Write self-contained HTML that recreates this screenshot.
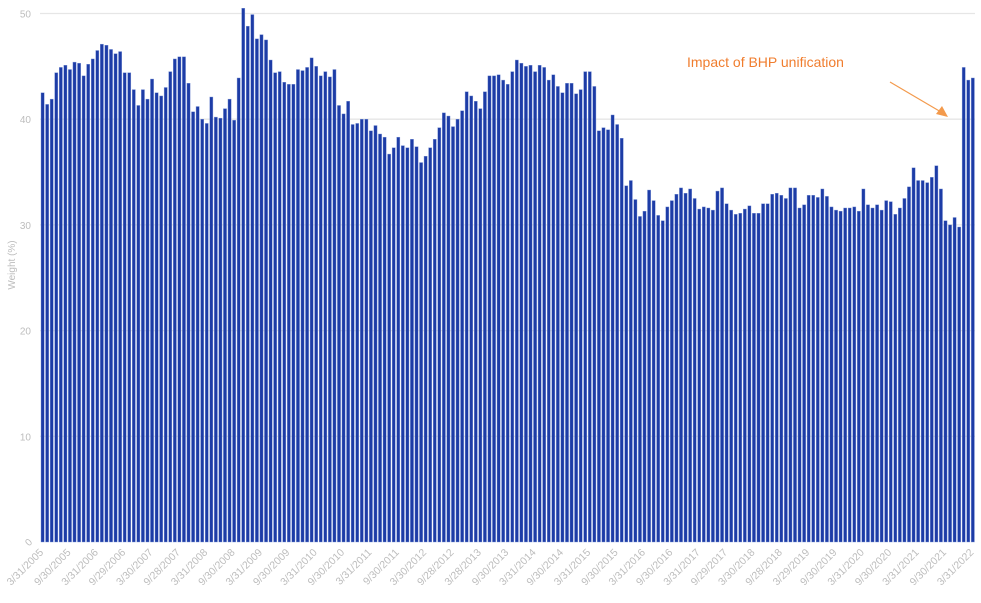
<!DOCTYPE html>
<html><head><meta charset="utf-8"><style>
html,body{margin:0;padding:0;background:#fff;}
svg{display:block;font-family:"Liberation Sans",sans-serif;}
</style></head><body>
<svg id="c" width="981" height="603" viewBox="0 0 981 603" xmlns="http://www.w3.org/2000/svg"></svg>
<script>
const d=[42.5,41.4,41.9,44.4,44.9,45.1,44.7,45.4,45.3,44.1,45.2,45.7,46.5,47.1,47.0,46.6,46.2,46.4,44.4,44.4,42.8,41.3,42.8,41.9,43.8,42.5,42.2,43.0,44.5,45.7,45.9,45.9,43.4,40.7,41.2,40.0,39.6,42.1,40.2,40.1,41.0,41.9,39.9,43.9,50.5,48.8,49.9,47.6,48.0,47.5,45.6,44.4,44.5,43.5,43.3,43.3,44.7,
44.6,44.9,45.8,45.0,44.1,44.5,44.0,44.7,41.3,40.5,41.7,39.5,39.6,40.0,40.0,38.9,39.4,38.6,38.3,36.7,37.3,38.3,37.5,37.3,38.1,37.4,35.9,36.5,37.3,
38.1,39.2,40.6,40.3,39.3,40.0,40.8,42.6,42.2,41.7,41.0,42.6,44.1,44.1,44.2,43.7,43.3,44.5,45.6,45.3,45.0,45.1,44.5,45.1,44.9,43.7,44.2,43.1,42.5,43.4,43.4,42.4,42.8,44.5,44.5,43.1,38.9,
39.2,39.0,40.4,39.5,38.2,33.7,34.2,32.4,30.8,31.3,33.3,32.3,30.9,30.4,31.7,32.3,32.9,33.5,33.0,33.4,32.5,31.5,31.7,31.6,31.4,33.2,33.5,32.0,31.4,31.0,31.1,31.5,31.8,31.1,31.1,32.0,32.0,32.9,33.0,32.8,32.5,33.5,33.5,31.6,
31.9,32.8,32.8,32.6,33.4,32.7,31.7,31.4,31.3,31.6,31.6,31.7,31.3,33.4,31.9,31.6,31.9,31.4,32.3,32.2,31.0,31.6,32.5,33.6,35.4,34.2,34.2,34.0,34.5,35.6,33.4,30.4,30.0,30.7,29.8,44.9,43.7,43.9];
const y0=542,k=10.57,x0=41,st=4.56;
let s='';
for(let v=10;v<=50;v+=10){const y=y0-v*k;s+=`<line x1="40" x2="975" y1="${y}" y2="${y}" stroke="#e6e6e6" stroke-width="1.3"/><text x="31" y="${y+4}" font-size="10" fill="#bdbdbd" text-anchor="end">${v}</text>`;}
s+=`<text x="31" y="${y0+4}" font-size="10" fill="#bdbdbd" text-anchor="end" transform="rotate(-45 28 ${y0})">0</text>`;
s+=`<text font-size="10" fill="#bdbdbd" text-anchor="middle" transform="translate(15 265) rotate(-90)">Weight (%)</text>`;
d.forEach((v,i)=>{const x=x0+i*st,h=v*k;s+=`<rect x="${x.toFixed(2)}" y="${(y0-h).toFixed(2)}" width="3.2" height="${h.toFixed(2)}" fill="#1d3ca6" stroke="#7d95d6" stroke-width="0.4"/>`;});
const labs=["3/31/2005","9/30/2005","3/31/2006","9/29/2006","3/30/2007","9/28/2007","3/31/2008","9/30/2008","3/31/2009","9/30/2009","3/31/2010","9/30/2010","3/31/2011","9/30/2011","3/30/2012","9/28/2012","3/28/2013","9/30/2013","3/31/2014","9/30/2014","3/31/2015","9/30/2015","3/31/2016","9/30/2016","3/31/2017","9/29/2017","3/30/2018","9/28/2018","3/29/2019","9/30/2019","3/31/2020","9/30/2020","3/31/2021","9/30/2021","3/31/2022"];
labs.forEach((t,i)=>{const x=x0+i*6*st+3;s+=`<text x="${x}" y="553" font-size="10.5" fill="#bdbdbd" text-anchor="end" transform="rotate(-45 ${x} 553)">${t}</text>`;});
s+=`<text x="687" y="67" font-size="14" fill="#f07d2e">Impact of BHP unification</text>`;
s+=`<line x1="890" y1="82" x2="941" y2="112" stroke="#f39a4c" stroke-width="1.2"/><polygon points="948,117 936,114 942,106" fill="#f39a4c"/>`;
document.getElementById('c').innerHTML=s;
</script>
</body></html>
